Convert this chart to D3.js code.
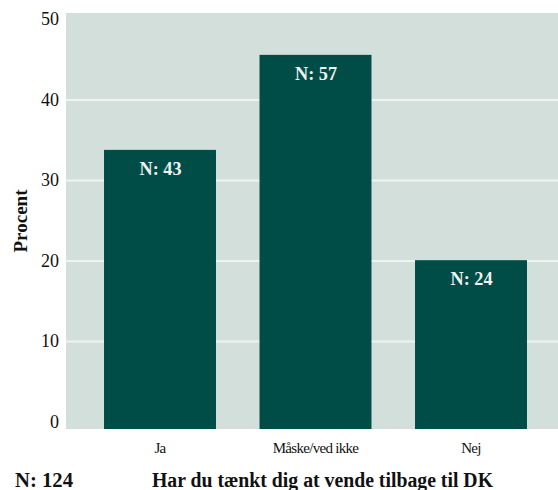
<!DOCTYPE html>
<html><head><meta charset="utf-8">
<script src="https://cdn.jsdelivr.net/npm/d3@7"></script>
<style>body{margin:0;background:#fff}svg{display:block}</style>
</head><body>
<script>
const categories = ["Ja", "Måske/ved ikke", "Nej"];
const values = [33.8, 45.6, 20.1];
const barLabels = ["N: 43", "N: 57", "N: 24"];
const yTicks = [0, 10, 20, 30, 40, 50];
const yTitle = "Procent";
const xTitle = "Har du tænkt dig at vende tilbage til DK";
const totalN = "N: 124";

const FONT = "'Liberation Serif', 'Times New Roman', serif";
const W = 558, H = 490;
const svg = d3.select("body").append("svg").attr("width", W).attr("height", H)
  .attr("font-family", FONT).style("font-family", FONT);
const panel = {x0: 66, x1: 558, y0: 13, y1: 429};
const y = d3.scaleLinear().domain([-0.87, 50.8]).range([panel.y1, panel.y0]);
const x = d3.scaleBand().domain(categories).range([82.25, 548.75]).paddingInner(0.28).paddingOuter(0.14);

svg.append("rect").attr("x", panel.x0).attr("y", panel.y0).attr("width", panel.x1 - panel.x0).attr("height", panel.y1 - panel.y0).attr("fill", "#d3dfdb");

svg.selectAll("line.grid").data(yTicks.filter(d => d > 0 && d < 50)).enter().append("line")
  .attr("x1", panel.x0).attr("x2", panel.x1).attr("y1", d => y(d)).attr("y2", d => y(d))
  .attr("stroke", "#eef3f1").attr("stroke-width", 2);

function txt(sel) { return sel.attr("font-family", FONT).style("font-family", FONT); }

txt(svg.selectAll("text.ytick").data(yTicks).enter().append("text"))
  .attr("x", 59).attr("y", d => y(d) + 6).attr("text-anchor", "end")
  .attr("font-size", 18).attr("fill", "#111").text(d => d);

const bars = categories.map((c, i) => ({c, v: values[i], l: barLabels[i]}));
svg.selectAll("rect.bar").data(bars).enter().append("rect")
  .attr("x", d => x(d.c)).attr("width", x.bandwidth())
  .attr("y", d => y(d.v)).attr("height", d => y(-0.87) - y(d.v))
  .attr("fill", "#004c47");

txt(svg.selectAll("text.bl").data(bars).enter().append("text"))
  .attr("x", d => x(d.c) + x.bandwidth() / 2 + 0.5).attr("y", d => y(d.v) + 25)
  .attr("text-anchor", "middle").attr("font-size", 18).attr("font-weight", "bold")
  .attr("textLength", 42).attr("lengthAdjust", "spacingAndGlyphs")
  .attr("fill", "#eef3f1").text(d => d.l);

txt(svg.selectAll("text.cat").data(categories).enter().append("text"))
  .attr("x", d => x(d) + x.bandwidth() / 2).attr("y", 453)
  .attr("text-anchor", "middle").attr("font-size", 15).attr("letter-spacing", -0.7)
  .attr("fill", "#111").text(d => d);

txt(svg.append("text")).attr("transform", "translate(27,221) rotate(-90)")
  .attr("text-anchor", "middle").attr("font-size", 18).attr("font-weight", "bold")
  .attr("textLength", 63).attr("lengthAdjust", "spacingAndGlyphs")
  .attr("fill", "#111").text(yTitle);

txt(svg.append("text")).attr("x", 15).attr("y", 487).attr("font-size", 20).attr("font-weight", "bold")
  .attr("textLength", 58).attr("lengthAdjust", "spacingAndGlyphs")
  .attr("fill", "#111").text(totalN);
txt(svg.append("text")).attr("x", 152).attr("y", 487).attr("font-size", 20).attr("font-weight", "bold")
  .attr("textLength", 341).attr("lengthAdjust", "spacingAndGlyphs")
  .attr("fill", "#111").text(xTitle);
</script>
</body></html>
